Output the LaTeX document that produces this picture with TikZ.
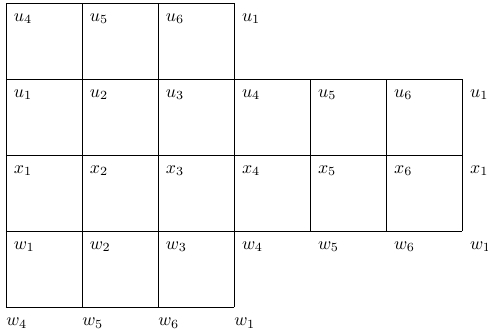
\documentclass[tikz,border=0pt]{standalone}
\begin{document}
\begin{tikzpicture}[
  gridline/.style={line width=0.5pt, black},
  lab/.style={anchor=base west, inner sep=0pt}
]
\useasboundingbox (-0.118,0.059) rectangle (9.51,-6.43);
% left block: 3 columns x 4 rows
\draw[gridline] (0,0) grid[step=1.5] (4.5,-6);
% right block: 3 columns x 2 rows
\draw[gridline] (4.5,-1.5) grid[step=1.5] (9,-4.5);
% labels
\foreach \i/\t in {0/u_4,1/u_5,2/u_6,3/u_1}
  \node[lab] (a\i) at (1.5*\i+0.15,-0.36) {$\t$};
\foreach \i/\t in {0/u_1,1/u_2,2/u_3,3/u_4,4/u_5,5/u_6,6/u_1}
  \node[lab] (b\i) at (1.5*\i+0.15,-1.86) {$\t$};
\foreach \i/\t in {0/x_1,1/x_2,2/x_3,3/x_4,4/x_5,5/x_6,6/x_1}
  \node[lab] (c\i) at (1.5*\i+0.15,-3.36) {$\t$};
\foreach \i/\t in {0/w_1,1/w_2,2/w_3,3/w_4,4/w_5,5/w_6,6/w_1}
  \node[lab] (d\i) at (1.5*\i+0.15,-4.86) {$\t$};
\foreach \i/\t in {0/w_4,1/w_5,2/w_6,3/w_1}
  \node[lab] (e\i) at (1.5*\i+0.0,-6.36) {$\t$};
\end{tikzpicture}
\end{document}
